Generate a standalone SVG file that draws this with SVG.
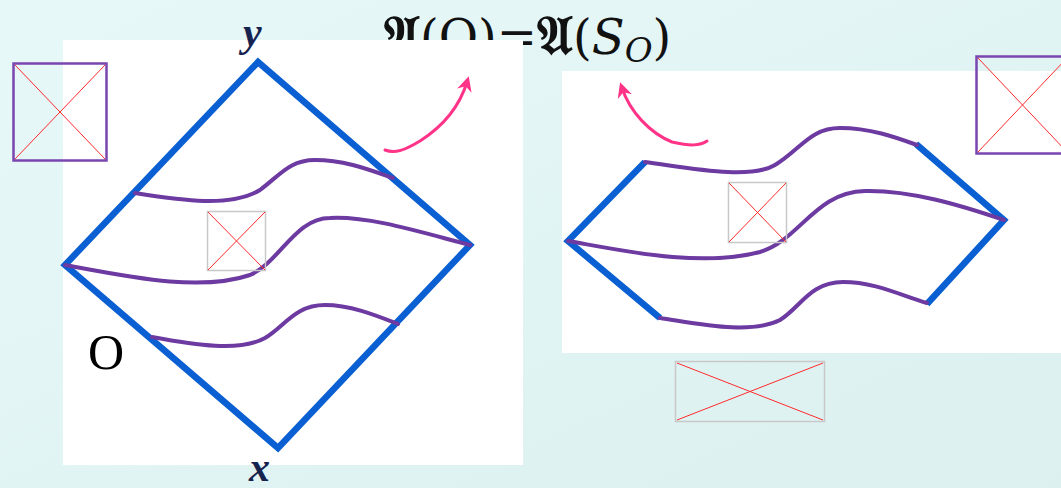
<svg xmlns="http://www.w3.org/2000/svg" width="1061" height="488" viewBox="0 0 1061 488">
<defs>
<linearGradient id="bg" x1="0" y1="0" x2="1" y2="1">
<stop offset="0" stop-color="#e7f8f8"/>
<stop offset="1" stop-color="#dcf0f0"/>
</linearGradient>
<marker id="ah" viewBox="0 0 10 10" refX="6" refY="5" markerWidth="5" markerHeight="5" orient="auto" markerUnits="strokeWidth">
<path d="M0,0 L10,5 L0,10 L3,5 Z" fill="#ff3388"/>
</marker>
<style>
.blue{fill:none;stroke:#0a5fd2;stroke-width:6.5;stroke-linejoin:miter;stroke-linecap:butt}
.pur{fill:none;stroke:#6c3aa0;stroke-width:4;stroke-linecap:round}
.pink{fill:none;stroke:#ff3388;stroke-width:3;stroke-linecap:round}
.ph{fill:none;stroke:#c8c8c8;stroke-width:1.5}
.phx{stroke:#ff2a2a;stroke-width:1}
.phb{fill:none;stroke:#7a45b0;stroke-width:2.5}
.lab{font-family:"Liberation Serif",serif;font-style:italic;font-weight:bold;fill:#16234f;font-size:42px}
.fr{font-weight:bold;font-size:54px}
</style>
</defs>
<rect width="1061" height="488" fill="url(#bg)"/>
<g id="title">
<text x="384" y="54" font-family="DejaVu Serif, 'Liberation Serif', serif" font-size="48" fill="#111"><tspan class="fr">𝔄</tspan>(O)=<tspan class="fr">𝔄</tspan>(<tspan font-style="italic">S</tspan><tspan font-style="italic" font-size="34" dy="8">O</tspan><tspan dy="-8">)</tspan></text>
</g>
<rect x="63" y="40" width="460" height="425" fill="#ffffff"/>
<rect x="562" y="71" width="499" height="282" fill="#ffffff"/>
<g id="ph-left-top">
<rect x="13.5" y="63.5" width="93" height="97" class="phb"/>
<line x1="15" y1="65" x2="105" y2="159" class="phx"/>
<line x1="105" y1="65" x2="15" y2="159" class="phx"/>
</g>
<g id="ph-right-top">
<rect x="976.5" y="56.5" width="92" height="97" class="phb"/>
<line x1="978" y1="58" x2="1067" y2="152" class="phx"/>
<line x1="1067" y1="58" x2="978" y2="152" class="phx"/>
</g>
<g id="ph-bottom">
<rect x="675.5" y="361.5" width="149" height="60" class="ph"/>
<line x1="677" y1="363" x2="823" y2="420" class="phx"/>
<line x1="823" y1="363" x2="677" y2="420" class="phx"/>
</g>
<g id="diamond">
<path d="M258,62 L470,245 L278,448 L65,265 Z" class="blue"/>
<path d="M135,193 C180,200 230,208 260,190 C280,175 290,160 315,160 C345,160 370,170 393,178" class="pur"/>
<path d="M65,265 C130,277 200,292 250,275 C280,262 295,218 330,218 C370,216 420,232 470,245" class="pur"/>
<path d="M152,337 C195,345 240,352 265,338 C285,326 295,305 325,305 C350,305 375,315 398,324" class="pur"/>
</g>
<g id="ph-left-mid">
<rect x="207.5" y="211.5" width="58" height="59" class="ph"/>
<line x1="208" y1="212" x2="265" y2="270" class="phx"/>
<line x1="265" y1="212" x2="208" y2="270" class="phx"/>
</g>
<g id="labels">
<text x="243" y="46" class="lab">y</text>
<text x="249" y="481" class="lab">x</text>
<text x="88" y="369" font-family="Liberation Serif, serif" font-size="50" fill="#000">O</text>
</g>
<g id="shape-right">
<path d="M645,162 L568,241 L660,318" class="blue"/>
<path d="M916,144 L1004,220 L927,304" class="blue"/>
<path d="M645,162 C690,168 750,180 775,165 C800,150 810,128 840,128 C870,128 895,137 917,145" class="pur"/>
<path d="M568,241 C620,250 700,268 760,252 C800,240 815,192 865,191 C910,190 960,205 1004,220" class="pur"/>
<path d="M660,318 C700,324 750,335 780,320 C800,308 810,282 843,282 C875,282 900,295 927,303" class="pur"/>
</g>
<g id="ph-right-mid">
<rect x="728.5" y="182.5" width="58" height="60" class="ph"/>
<line x1="729" y1="183" x2="786" y2="242" class="phx"/>
<line x1="786" y1="183" x2="729" y2="242" class="phx"/>
</g>
<g id="connectors">
<path d="M385,150 C395,154 405,150 420,141 C445,125 460,105 467,82" class="pink" marker-end="url(#ah)"/>
<path d="M707,141 C700,146 690,146 672,142 C650,133 630,112 622,88" class="pink" marker-end="url(#ah)"/>
</g>
</svg>
